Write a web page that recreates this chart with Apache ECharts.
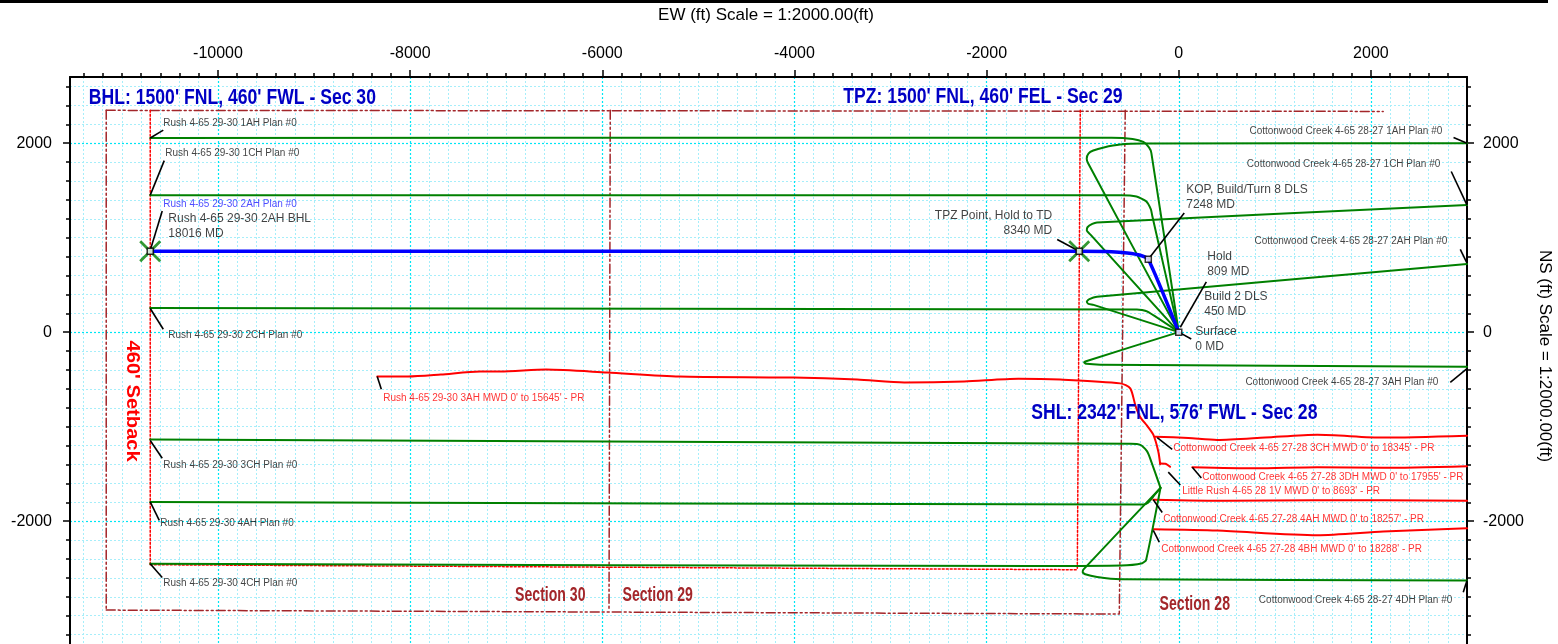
<!DOCTYPE html>
<html><head><meta charset="utf-8">
<script src="https://cdn.jsdelivr.net/npm/echarts@6/dist/echarts.min.js"></script>
<style>html,body{margin:0;padding:0;background:#fff}#c{width:1558px;height:644px}</style>
</head><body><div id="c"></div>
<script>
// ---------- axes ----------
const X_MIN = -11540, X_MAX = 3000, Y_MIN = -3300, Y_MAX = 2700;
const xMajorTicks = [-10000, -8000, -6000, -4000, -2000, 0, 2000];
const yMajorTicks = [2000, 0, -2000];
const MINOR_STEP = 200;

// ---------- section boundaries & setback (ft) ----------
const secTop = [[-11163, 2347], [2128, 2336]];
const secLeft = [[-11163, 2347], [-11163, -2941]];
const secBottom = [[-11163, -2941], [-619, -2983]];
const sec3029 = [[-5917, 2347], [-5930, -2945]];
const sec2928 = [[-557, 2347], [-619, -2983]];
const setbackLeft = [[-10705, 2347], [-10705, -2461]];
const setbackBottom = [[-10705, -2461], [-1056, -2514]];
const setbackRight = [[-1025, 2347], [-1056, -2514]];

// ---------- plan wells (green) ----------
const rush1AH = [[-10705, 2055], [-3000, 2058], [-700, 2058], [-480, 2045], [-369, 2013], [-310, 1955], [-285, 1895], [0, 0]];
const rush1CH = [[-10705, 1450], [-600, 1450], [-440, 1436], [-340, 1385], [-290, 1300], [-276, 1231], [0, 0]];
const rush2CH = [[-10705, 255], [-435, 240], [-331, 219], [0, 0]];
const rush3CH = [[-10705, -1137], [-500, -1180], [-400, -1192], [-331, -1259], [-300, -1330], [-190, -1648]];
const rush4AH = [[-10705, -1797], [-370, -1825], [-320, -1805], [-250, -1720], [-190, -1648]];
const rush4CH = [[-10705, -2451], [-1500, -2475], [-600, -2470], [-380, -2445], [-340, -2410], [-190, -1648]];
const cc1AH = [[0, 0], [-942, 1784], [-958, 1836], [-940, 1890], [-890, 1922], [-780, 1955], [-609, 1985], [-369, 1995], [3000, 2000]];
const cc1CH = [[0, 0], [-921, 1035], [-957, 1075], [-950, 1110], [-900, 1145], [-851, 1160], [3000, 1345]];
const cc2AH = [[0, 0], [-887, 289], [-940, 300], [-957, 323], [-930, 350], [-851, 375], [3000, 720]];
const cc3AH = [[0, 0], [-973, -310], [-985, -322], [-960, -335], [-817, -344], [3000, -365]];
const cc4DH = [[-190, -1648], [-991, -2510], [-1000, -2540], [-973, -2562], [-850, -2590], [-609, -2614], [3000, -2628]];

// ---------- Rush 4-65 29-30 2AH (blue) ----------
const rush2AH = [[-10705, 856], [-1036, 856], [-700, 852], [-536, 838], [-401, 814], [-317, 772], [0, 0]];

// ---------- MWD surveys (red) ----------
const rush3AHmwd = [[-8342, -469], [-8020, -469], [-7680, -448], [-7270, -417], [-7063, -417], [-6583, -396], [-5948, -427], [-5199, -469], [-4012, -480], [-3346, -501], [-2857, -532], [-2232, -521], [-1670, -492], [-1233, -501], [-609, -542], [-505, -595], [-450, -780], [-400, -900], [-330, -990], [-265, -1085], [-213, -1262], [-193, -1398]];
const cc3CHmwd = [[-245, -1106], [100, -1120], [400, -1140], [900, -1115], [1441, -1085], [2128, -1116], [3000, -1095]];
const cc3DHmwd = [[141, -1429], [800, -1440], [1441, -1429], [2128, -1435], [3000, -1418]];
const littleRush1Vmwd = [[-193, -1390], [-140, -1392], [-90, -1425]];
const cc4AHmwd = [[-265, -1773], [500, -1785], [1400, -1778], [3000, -1784]];
const cc4BHmwd = [[-265, -2086], [400, -2100], [1441, -2149], [2128, -2110], [3000, -2076]];

// ---------- markers ----------
const squareMarkers = [[0, 0], [-317, 772], [-1036, 856], [-10705, 856]];
const crossMarkers = [[-1036, 856], [-10705, 856]];

// ---------- leader lines ----------
const leaders = [
  [[-10705, 2055], [-10569, 2138]],
  [[-10705, 1450], [-10559, 1815]],
  [[-10705, 866], [-10580, 1283]],
  [[-10705, 250], [-10569, 31]],
  [[-10705, -1147], [-10580, -1335]],
  [[-10705, -1797], [-10611, -1992]],
  [[-10705, -2451], [-10580, -2597]],
  [[2860, 2060], [3000, 2000]],
  [[2836, 1700], [3000, 1345]],
  [[2930, 876], [3000, 730]],
  [[2826, -532], [3000, -385]],
  [[2961, -2753], [3000, -2628]],
  [[-8342, -469], [-8300, -605]],
  [[-224, -1116], [-68, -1241]],
  [[141, -1429], [235, -1544]],
  [[-109, -1481], [16, -1617]],
  [[-265, -1773], [-172, -1909]],
  [[-265, -2097], [-203, -2222]],
  [[-1265, 980], [-1036, 856]],
  [[57, 1262], [-317, 772]],
  [[287, 532], [16, 52]],
  [[0, 0], [130, -73]]
];

// ---------- texts ----------
const planLabelsLeft = [
  ['Rush 4-65 29-30 1AH Plan #0', -10569, 2211],
  ['Rush 4-65 29-30 1CH Plan #0', -10548, 1888],
  ['Rush 4-65 29-30 2CH Plan #0', -10517, -31],
  ['Rush 4-65 29-30 3CH Plan #0', -10569, -1408],
  ['Rush 4-65 29-30 4AH Plan #0', -10600, -2023],
  ['Rush 4-65 29-30 4CH Plan #0', -10569, -2660]
];
const blueLabels = [['Rush 4-65 29-30 2AH Plan #0', -10569, 1356]];
const planLabelsRight = [
  ['Cottonwood Creek 4-65 28-27 1AH Plan #0', 2743, 2128],
  ['Cottonwood Creek 4-65 28-27 1CH Plan #0', 2722, 1773],
  ['Cottonwood Creek 4-65 28-27 2AH Plan #0', 2795, 960],
  ['Cottonwood Creek 4-65 28-27 3AH Plan #0', 2701, -532],
  ['Cottonwood Creek 4-65 28-27 4DH Plan #0', 2847, -2837]
];
const mwdLabels = [
  ["Rush 4-65 29-30 3AH MWD 0' to 15645' - PR", -8280, -699],
  ["Cottonwood Creek 4-65 27-28 3CH MWD 0' to 18345' - PR", -57, -1231],
  ["Cottonwood Creek 4-65 27-28 3DH MWD 0' to 17955' - PR", 245, -1533],
  ["Little Rush 4-65 28 1V MWD 0' to 8693' - PR", 36, -1680],
  ["Cottonwood Creek 4-65 27-28 4AH MWD 0' to 18257' - PR", -161, -1982],
  ["Cottonwood Creek 4-65 27-28 4BH MWD 0' to 18288' - PR", -182, -2295]
];
const pointNotesLeft = [
  ['Rush 4-65 29-30 2AH BHL\n18016 MD', -10517, 1121],
  ['KOP, Build/Turn 8 DLS\n7248 MD', 78, 1424],
  ['Hold\n809 MD', 297, 714],
  ['Build 2 DLS\n450 MD', 265, 297],
  ['Surface\n0 MD', 172, -73]
];
const pointNotesRight = [['TPZ Point, Hold to TD\n8340 MD', -1317, 1158]];
const titleLabels = [
  ["BHL: 1500' FNL, 460' FWL - Sec 30", -11344, 2482],
  ["TPZ: 1500' FNL, 460' FEL - Sec 29", -3491, 2493],
  ["SHL: 2342' FNL, 576' FWL - Sec 28", -1535, -855]
];
const sectionLabels = [['Section 30', -6541, -2785], ['Section 29', -5423, -2785], ['Section 28', 167, -2879]];
const setbackLabel = [["460' Setback", -10892, -730]];

// ---------- build ----------
function range(a, b, s) { const r = []; for (let v = a; v <= b; v += s) r.push(v); return r; }
const xMinorTicks = range(-11400, 2800, MINOR_STEP).filter(v => !xMajorTicks.includes(v));
const yMinorTicks = range(-3200, 2600, MINOR_STEP).filter(v => !yMajorTicks.includes(v));

const SANS = "'Liberation Sans', Arial, sans-serif";
const GRID_MAJOR = { color: '#00e6f5', width: 1.2, type: [2, 2] };
const GRID_MINOR = { color: '#a6eefa', width: 1, type: [2, 2] };
const fmt = v => String(v);

function xAxisDef(ticks, len, labels, split) {
  return {
    type: 'value', position: 'top', min: X_MIN, max: X_MAX,
    axisLine: { show: labels, onZero: false, lineStyle: { color: '#000', width: 2 } },
    axisTick: { show: true, customValues: ticks, length: len, inside: false, lineStyle: { color: '#000', width: 1.5 } },
    axisLabel: labels ? { show: true, customValues: ticks, formatter: fmt, fontSize: 16, color: '#000', fontFamily: SANS, margin: 15 } : { show: false },
    splitLine: { show: true, lineStyle: split },
    minorTick: { show: false }
  };
}
function yAxisDef(pos, ticks, len, labels, split) {
  return {
    type: 'value', position: pos, min: Y_MIN, max: Y_MAX,
    axisLine: { show: labels, onZero: false, lineStyle: { color: '#000', width: 2 } },
    axisTick: { show: true, customValues: ticks, length: len, inside: false, lineStyle: { color: '#000', width: 1.5 } },
    axisLabel: labels ? { show: true, customValues: ticks, formatter: fmt, fontSize: 16, color: '#000', fontFamily: SANS, margin: pos === 'left' ? 18 : 16 } : { show: false },
    splitLine: split ? { show: true, lineStyle: split } : { show: false }
  };
}

function lineSeries(data, color, width, type, z, smooth) {
  return {
    type: 'line', data: data, xAxisIndex: 0, yAxisIndex: 0, symbol: 'none', silent: true,
    smooth: smooth || false, z: z, clip: true,
    lineStyle: { color: color, width: width, type: type || 'solid', cap: 'round', join: 'round' }
  };
}
function textSeries(items, style, pos, z) {
  return {
    type: 'scatter', xAxisIndex: 0, yAxisIndex: 0, symbolSize: 0, silent: true, z: z || 20,
    data: items.map(t => ({ name: t[0], value: [t[1], t[2]] })),
    label: Object.assign({ show: true, formatter: '{b}', position: pos, distance: 0 }, style)
  };
}
// condensed bold text (Arial Narrow look) drawn through the axes with api.coord
function narrowTextSeries(items, fontSize, color, scaleX, align, rotation) {
  return {
    type: 'custom', xAxisIndex: 0, yAxisIndex: 0, silent: true, z: 21, clip: false,
    data: items.map(t => [t[1], t[2]]),
    renderItem: function (params, api) {
      const p = api.coord([api.value(0), api.value(1)]);
      return {
        type: 'text', x: p[0], y: p[1], scaleX: scaleX, rotation: rotation || 0,
        style: {
          text: items[params.dataIndex][0], fontSize: fontSize, fontWeight: 'bold',
          fontFamily: SANS, fill: color, align: align, verticalAlign: 'middle'
        }
      };
    }
  };
}

const BROWN = '#a3262a';
const GREEN = '#008000';
const RED = '#ff0000';
const DASHDOT = [9, 3, 2, 3, 2, 3];

const series = [];
[secTop, secLeft, secBottom, sec3029, sec2928].forEach(d => series.push(lineSeries(d, BROWN, 1.5, DASHDOT, 3)));
[setbackLeft, setbackBottom, setbackRight].forEach(d => series.push(lineSeries(d, RED, 1.5, [2, 2], 3)));
[rush3AHmwd, cc3CHmwd, cc3DHmwd, littleRush1Vmwd, cc4AHmwd, cc4BHmwd].forEach(d => series.push(lineSeries(d, RED, 2, 'solid', 4, 0.25)));
[rush1AH, rush1CH, rush2CH, rush3CH, rush4AH, rush4CH, cc1AH, cc1CH, cc2AH, cc3AH, cc4DH].forEach(d => series.push(lineSeries(d, GREEN, 2, 'solid', 5, 0.2)));
series.push(lineSeries(rush2AH, '#0000ff', 3.5, 'solid', 6, 0.2));
series.push({
  type: 'lines', coordinateSystem: 'cartesian2d', xAxisIndex: 0, yAxisIndex: 0, silent: true, z: 7,
  lineStyle: { color: '#000', width: 1.6, opacity: 1 },
  data: leaders.map(c => ({ coords: c }))
});
series.push({
  type: 'scatter', xAxisIndex: 0, yAxisIndex: 0, silent: true, z: 8,
  symbol: 'path://M0,0.9L0.9,0L10,9.1L9.1,10Z M9.1,0L10,0.9L0.9,10L0,9.1Z', symbolSize: 22,
  itemStyle: { color: GREEN }, data: crossMarkers
});
series.push({
  type: 'scatter', xAxisIndex: 0, yAxisIndex: 0, silent: true, z: 9,
  symbol: 'rect', symbolSize: 6, itemStyle: { color: '#fff', borderColor: '#000', borderWidth: 1.5 },
  data: squareMarkers
});
series.push(textSeries(planLabelsLeft, { fontSize: 10, color: '#111', fontFamily: SANS }, 'right'));
series.push(textSeries(blueLabels, { fontSize: 10, color: '#2020ff', fontFamily: SANS }, 'right'));
series.push(textSeries(planLabelsRight, { fontSize: 10, color: '#111', fontFamily: SANS, align: 'right' }, 'left'));
series.push(textSeries(mwdLabels, { fontSize: 10, color: RED, fontFamily: SANS }, 'right'));
series.push(textSeries(pointNotesLeft, { fontSize: 12, color: '#111', fontFamily: SANS, lineHeight: 15 }, 'right'));
series.push(textSeries(pointNotesRight, { fontSize: 12, color: '#111', fontFamily: SANS, lineHeight: 15, align: 'right' }, 'left'));
series.push(narrowTextSeries(titleLabels, 22, '#0000c4', 0.8, 'left'));
series.push(narrowTextSeries(sectionLabels, 21, BROWN, 0.67, 'center'));
series.push(narrowTextSeries(setbackLabel, 19, RED, 1.06, 'center', -Math.PI / 2));

const chart = echarts.init(document.getElementById('c'), null, { renderer: 'canvas' });
chart.setOption({
  animation: false,
  backgroundColor: '#fff',
  grid: { left: 70, top: 77, width: 1397, height: 575, containLabel: false },
  xAxis: [
    xAxisDef(xMajorTicks, 7, true, GRID_MAJOR),
    xAxisDef(xMinorTicks, 4, false, GRID_MINOR)
  ],
  yAxis: [
    yAxisDef('left', yMajorTicks, 7, true, GRID_MAJOR),
    yAxisDef('left', yMinorTicks, 4, false, GRID_MINOR),
    yAxisDef('right', yMajorTicks, 7, true, null),
    yAxisDef('right', yMinorTicks, 4, false, null)
  ],
  graphic: [
    { type: 'rect', shape: { x: 0, y: 0, width: 1548, height: 3 }, style: { fill: '#000' }, z: 100 },
    { type: 'text', x: 766, y: 15, style: { text: 'EW (ft) Scale = 1:2000.00(ft)', fontSize: 17, fontFamily: SANS, fill: '#000', align: 'center', verticalAlign: 'middle' } },
    { type: 'text', x: 1545, y: 356, rotation: -Math.PI / 2, style: { text: 'NS (ft) Scale = 1:2000.00(ft)', fontSize: 17, fontFamily: SANS, fill: '#000', align: 'center', verticalAlign: 'middle' } }
  ],
  series: series
});
</script></body></html>
